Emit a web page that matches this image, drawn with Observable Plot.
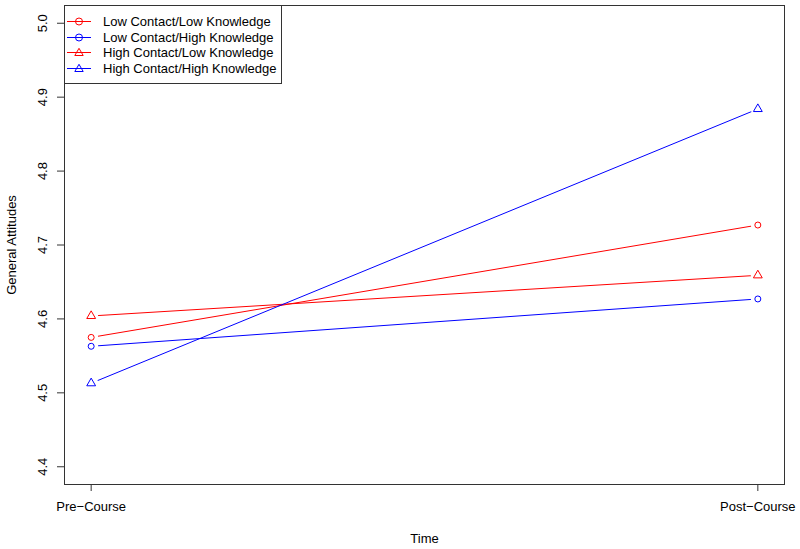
<!DOCTYPE html>
<html>
<head>
<meta charset="utf-8">
<script src="https://cdn.jsdelivr.net/npm/d3@7"></script>
<script src="https://cdn.jsdelivr.net/npm/@observablehq/plot@0.6"></script>
<style>
body { margin: 0; background: #fff; font-family: "Liberation Sans", Arial, sans-serif; }
#wrap { position: relative; width: 800px; height: 549px; }
#legend { position: absolute; left: 64px; top: 5px; width: 216px; height: 77px; border: 1px solid #333; background: #fff; box-sizing: content-box; }
.row { position: absolute; left: 0; height: 15px; display: flex; align-items: center; font-size: 13px; color: #000; white-space: nowrap; }
.row svg { margin-left: 2px; margin-right: 12px; }
</style>
</head>
<body>
<div id="wrap"></div>
<script>
const times = [1, 2];
const timeLabels = ["Pre\u2212Course", "Post\u2212Course"];
const groups = ["Low Contact/Low Knowledge", "Low Contact/High Knowledge", "High Contact/Low Knowledge", "High Contact/High Knowledge"];
const preValues = [4.575, 4.563, 4.604, 4.513];
const postValues = [4.727, 4.627, 4.659, 4.884];
const groupColors = ["red", "blue", "red", "blue"];
const groupSymbols = ["circle", "circle", "triangle", "triangle"];
const yTicks = [4.4, 4.5, 4.6, 4.7, 4.8, 4.9, 5.0];

const data = [];
groups.forEach((g, i) => {
  data.push({group: g, time: times[0], value: preValues[i], color: groupColors[i], symbol: groupSymbols[i]});
  data.push({group: g, time: times[1], value: postValues[i], color: groupColors[i], symbol: groupSymbols[i]});
});

const chart = Plot.plot({
  width: 800,
  height: 549,
  marginLeft: 64,
  marginTop: 5,
  marginRight: 16,
  marginBottom: 65,
  style: {fontFamily: "Liberation Sans, Arial, sans-serif", fontSize: "13px", color: "#000", background: "#fff"},
  x: {domain: [0.96, 2.04]},
  y: {domain: [4.376, 5.024]},
  symbol: {domain: ["circle", "triangle"], range: ["circle", "triangle"]},
  marks: [
    Plot.line(data, {x: "time", y: "value", z: "group", stroke: "color", strokeWidth: 1}),
    Plot.dot(data, {x: "time", y: "value", r: 7, fill: "white", stroke: null}),
    Plot.dot(data, {x: "time", y: "value", symbol: "symbol", r: d => d.symbol === "circle" ? 3.5 : 4.2, stroke: "color", fill: "none", strokeWidth: 1}),
    Plot.frame({stroke: "#333", strokeWidth: 1}),
    Plot.axisX({ticks: times, tickFormat: d => timeLabels[times.indexOf(d)], tickSize: 7, tickPadding: 10, stroke: "#333",
      label: "Time", labelAnchor: "center", labelOffset: 58, labelArrow: "none", fontSize: 13}),
    Plot.axisY({ticks: yTicks, tickFormat: d => d.toFixed(1), tickSize: 7, tickPadding: 11, tickRotate: -90, stroke: "#333",
      label: "General Attitudes", labelAnchor: "center", labelOffset: 58, labelArrow: "none", fontSize: 13})
  ]
});

const wrap = document.getElementById("wrap");
wrap.appendChild(chart);

const legend = document.createElement("div");
legend.id = "legend";
groups.forEach((g, i) => {
  const row = document.createElement("div");
  row.className = "row";
  row.style.top = (8 + i * 15.5) + "px";
  const c = groupColors[i];
  const sym = groupSymbols[i] === "circle"
    ? `<circle cx="12" cy="7.5" r="3.5" fill="none" stroke="${c}"/>`
    : `<path d="M12,3.3 L16.2,10.5 L7.8,10.5 Z" fill="none" stroke="${c}"/>`;
  row.innerHTML = `<svg width="24" height="15"><line x1="0" y1="7.5" x2="24" y2="7.5" stroke="${c}"/>${sym}</svg><span>${g}</span>`;
  legend.appendChild(row);
});
wrap.appendChild(legend);
</script>
</body>
</html>
